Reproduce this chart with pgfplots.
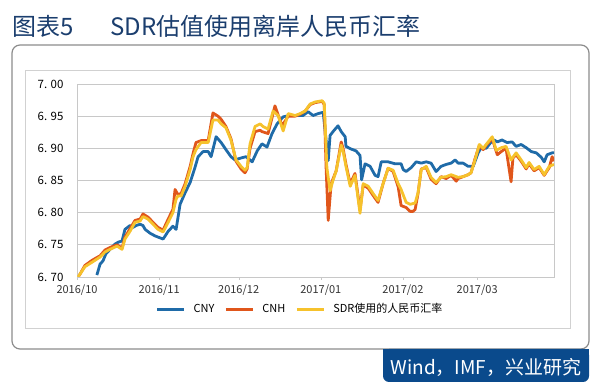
\documentclass[border=0pt]{standalone}
\usepackage{pgfplots}
\pgfplotsset{compat=1.18}
\usepackage{fontspec}
\setmainfont{Noto Sans CJK SC}
\definecolor{cny}{RGB}{31,107,168}
\definecolor{cnh}{RGB}{224,86,27}
\definecolor{sdr}{RGB}{246,194,44}
\definecolor{navy}{RGB}{27,62,110}
\definecolor{boxblue}{RGB}{10,74,140}
\definecolor{gridgray}{RGB}{200,200,200}
\begin{document}
\begin{tikzpicture}[x=1pt,y=1pt]
\useasboundingbox (0pt,0pt) rectangle (600pt,391pt);
\node[anchor=west,text=navy,font=\fontsize{24}{24}\selectfont,inner sep=0] at (12pt,365pt) {图表5};
\node[anchor=west,text=navy,font=\fontsize{24}{24}\selectfont,inner sep=0] at (110pt,365pt) {SDR估值使用离岸人民币汇率};
\draw[black!45, line width=1.2pt, rounded corners=8pt] (12pt,42pt) rectangle (589pt,346pt);
\fill[boxblue, rounded corners=6pt] (383pt,9pt) rectangle (589pt,42pt);
\fill[boxblue] (383pt,30pt) rectangle (589pt,42pt);
\node[text=white,font=\fontsize{19}{19}\selectfont,inner sep=0] at (486pt,24pt) {Wind，IMF，兴业研究};
\draw[black!18, line width=0.8pt] (25pt,63pt) rectangle (570pt,321pt);
\begin{axis}[
  at={(77pt,114pt)}, anchor=south west,
  scale only axis, width=477pt, height=193pt,
  xmin=0, xmax=180, ymin=6.70, ymax=7.00,
  xtick={0,31,61,92,123,151},
  xticklabels={\textnormal{2016/10},\textnormal{2016/11},\textnormal{2016/12},\textnormal{2017/01},\textnormal{2017/02},\textnormal{2017/03}},
  ytick={6.70,6.75,6.80,6.85,6.90,6.95,7.00},
  yticklabels={\textnormal{6. 70},\textnormal{6. 75},\textnormal{6. 80},\textnormal{6. 85},\textnormal{6. 90},\textnormal{6. 95},\textnormal{7. 00}},
  ymajorgrids, grid style={gridgray, line width=0.9pt},
  axis line style={gridgray, line width=0.9pt},
  xtick style={gridgray}, tick align=outside, xtick pos=bottom, major tick length=3pt,
  ytick style={draw=none},
  xticklabel style={font=\fontsize{11}{11}\selectfont, text=black!80, yshift=-1pt},
  yticklabel style={font=\fontsize{11.5}{11.5}\selectfont, text=black, xshift=-7pt},
  legend columns=3,
  legend style={at={(0.4675,-0.166)}, anchor=center, draw=none, fill=none,
    font=\fontsize{11}{11}\selectfont, column sep=6pt,
    /tikz/every even column/.append style={column sep=8pt}},
  legend image code/.code={\draw[#1, line width=3pt] (0pt,0pt) -- (27pt,0pt);},
  every axis plot/.append style={line width=2.8pt, line join=round},
]
\addplot[cny] coordinates {
(7.5,6.703) (8.7,6.720) (9.8,6.725) (10.9,6.736) (12.5,6.743) (14.3,6.751) (15.5,6.754) (17.0,6.756) (18.1,6.774) (20.0,6.780) (21.1,6.777) (22.3,6.780) (23.8,6.782) (24.9,6.780) (25.7,6.774) (27.6,6.768) (29.4,6.764) (30.6,6.762) (32.5,6.759) (34.4,6.771) (36.2,6.779) (37.4,6.774) (38.9,6.813) (40.8,6.831) (42.7,6.847) (44.5,6.870) (45.7,6.887) (47.6,6.895) (49.5,6.895) (50.6,6.887) (52.5,6.918) (54.4,6.909) (56.2,6.898) (58.1,6.887) (59.6,6.882) (61.9,6.885) (63.8,6.887) (66.1,6.879) (68.0,6.896) (69.8,6.907) (71.7,6.902) (73.6,6.923) (75.5,6.938) (77.8,6.949) (80.4,6.951) (83.1,6.951) (85.3,6.951) (87.2,6.957) (89.1,6.951) (91.0,6.954) (92.9,6.956) (94.8,6.881) (95.5,6.920) (96.6,6.926) (98.5,6.935) (99.7,6.926) (101.2,6.918) (101.5,6.903) (103.4,6.899) (105.3,6.896) (106.8,6.889) (107.4,6.851) (108.7,6.876) (110.6,6.872) (112.5,6.858) (113.6,6.856) (114.8,6.879) (117.4,6.879) (120.0,6.876) (122.3,6.876) (123.1,6.867) (124.2,6.864) (126.1,6.870) (128.0,6.879) (129.9,6.877) (131.8,6.879) (133.6,6.877) (135.5,6.864) (137.4,6.872) (139.3,6.875) (141.2,6.877) (142.7,6.882) (143.8,6.877) (145.7,6.877) (147.6,6.872) (149.5,6.872) (151.4,6.893) (152.5,6.901) (154.4,6.900) (156.7,6.912) (157.4,6.913) (158.6,6.910) (160.4,6.913) (162.3,6.909) (164.2,6.910) (165.7,6.903) (167.6,6.906) (169.5,6.901) (171.4,6.895) (173.3,6.893) (175.2,6.886) (176.3,6.879) (177.4,6.890) (179.3,6.893) (180,6.893)
};
\addlegendentry{CNY}
\addplot[cnh] coordinates {
(0.8,6.702) (3.0,6.718) (5.7,6.726) (8.7,6.733) (10.6,6.742) (12.5,6.746) (15.1,6.750) (17.0,6.745) (18.1,6.762) (20.0,6.775) (21.9,6.788) (23.8,6.790) (24.9,6.798) (26.8,6.793) (29.4,6.782) (30.6,6.777) (32.5,6.773) (34.4,6.790) (36.2,6.805) (37.0,6.836) (38.1,6.828) (39.3,6.830) (40.8,6.845) (42.7,6.872) (43.8,6.892) (44.9,6.909) (46.8,6.912) (49.5,6.912) (51.3,6.955) (53.2,6.950) (54.4,6.945) (56.2,6.934) (58.1,6.915) (60.0,6.880) (61.9,6.868) (63.4,6.862) (64.2,6.868) (65.3,6.900) (67.2,6.926) (69.1,6.928) (69.8,6.926) (72.1,6.923) (74.7,6.966) (75.9,6.952) (77.4,6.935) (79.7,6.950) (82.3,6.950) (84.2,6.953) (86.1,6.958) (88.0,6.968) (89.8,6.971) (92.5,6.973) (93.3,6.968) (94.0,6.870) (94.8,6.788) (95.9,6.845) (97.8,6.865) (99.7,6.910) (100.4,6.900) (101.5,6.875) (103.1,6.845) (104.9,6.861) (106.8,6.804) (108.0,6.843) (109.9,6.838) (111.7,6.827) (113.6,6.816) (115.5,6.845) (117.4,6.869) (119.3,6.864) (121.2,6.840) (122.3,6.811) (124.2,6.808) (125.7,6.802) (126.8,6.802) (127.6,6.805) (128.7,6.830) (129.9,6.868) (131.8,6.870) (133.6,6.852) (135.5,6.845) (137.4,6.856) (139.3,6.853) (141.2,6.858) (143.1,6.849) (143.8,6.853) (145.7,6.856) (147.6,6.859) (148.7,6.862) (150.2,6.884) (151.8,6.904) (153.3,6.898) (154.4,6.905) (156.7,6.915) (158.6,6.890) (160.1,6.895) (161.9,6.900) (163.8,6.848) (164.5,6.885) (165.7,6.890) (167.6,6.880) (169.5,6.868) (170.6,6.876) (172.5,6.865) (174.4,6.870) (176.3,6.858) (178.2,6.870) (179.3,6.887) (180,6.880)
};
\addlegendentry{CNH}
\addplot[sdr] coordinates {
(0.4,6.700) (3.0,6.716) (5.7,6.723) (8.7,6.731) (10.6,6.739) (12.5,6.743) (15.1,6.748) (17.0,6.743) (18.1,6.759) (20.0,6.771) (21.9,6.785) (23.8,6.787) (24.9,6.794) (26.8,6.790) (29.4,6.779) (30.6,6.774) (32.5,6.770) (34.4,6.785) (36.2,6.800) (37.4,6.821) (38.1,6.826) (39.3,6.826) (40.8,6.841) (42.7,6.867) (43.8,6.887) (44.9,6.898) (46.8,6.909) (49.5,6.909) (51.3,6.944) (53.2,6.944) (54.4,6.938) (56.2,6.932) (58.1,6.913) (60.0,6.882) (61.9,6.872) (63.4,6.866) (64.2,6.870) (65.3,6.907) (67.2,6.934) (69.1,6.938) (70.2,6.934) (72.1,6.930) (74.0,6.958) (75.9,6.951) (77.8,6.927) (79.7,6.954) (82.3,6.951) (84.2,6.954) (86.1,6.958) (88.0,6.969) (89.8,6.972) (92.5,6.974) (93.3,6.970) (94.3,6.870) (95.5,6.834) (96.6,6.850) (97.8,6.865) (99.7,6.905) (100.4,6.896) (101.5,6.872) (103.1,6.841) (104.9,6.858) (106.8,6.799) (108.0,6.845) (109.9,6.841) (111.7,6.830) (113.6,6.819) (115.5,6.845) (117.4,6.869) (119.3,6.866) (121.2,6.845) (122.3,6.836) (124.2,6.816) (125.7,6.813) (127.6,6.815) (128.7,6.831) (129.9,6.867) (131.8,6.872) (133.6,6.855) (135.5,6.847) (137.4,6.855) (139.3,6.856) (141.2,6.859) (143.8,6.855) (145.7,6.856) (147.6,6.859) (148.7,6.862) (150.2,6.882) (151.8,6.906) (153.3,6.900) (154.4,6.906) (156.7,6.918) (158.2,6.897) (160.1,6.901) (161.9,6.903) (163.8,6.882) (165.7,6.893) (167.6,6.882) (169.5,6.870) (170.6,6.878) (172.5,6.867) (174.4,6.872) (176.3,6.859) (178.2,6.872) (180,6.875)
};
\addlegendentry{SDR使用的人民币汇率}
\end{axis}
\end{tikzpicture}
\end{document}
